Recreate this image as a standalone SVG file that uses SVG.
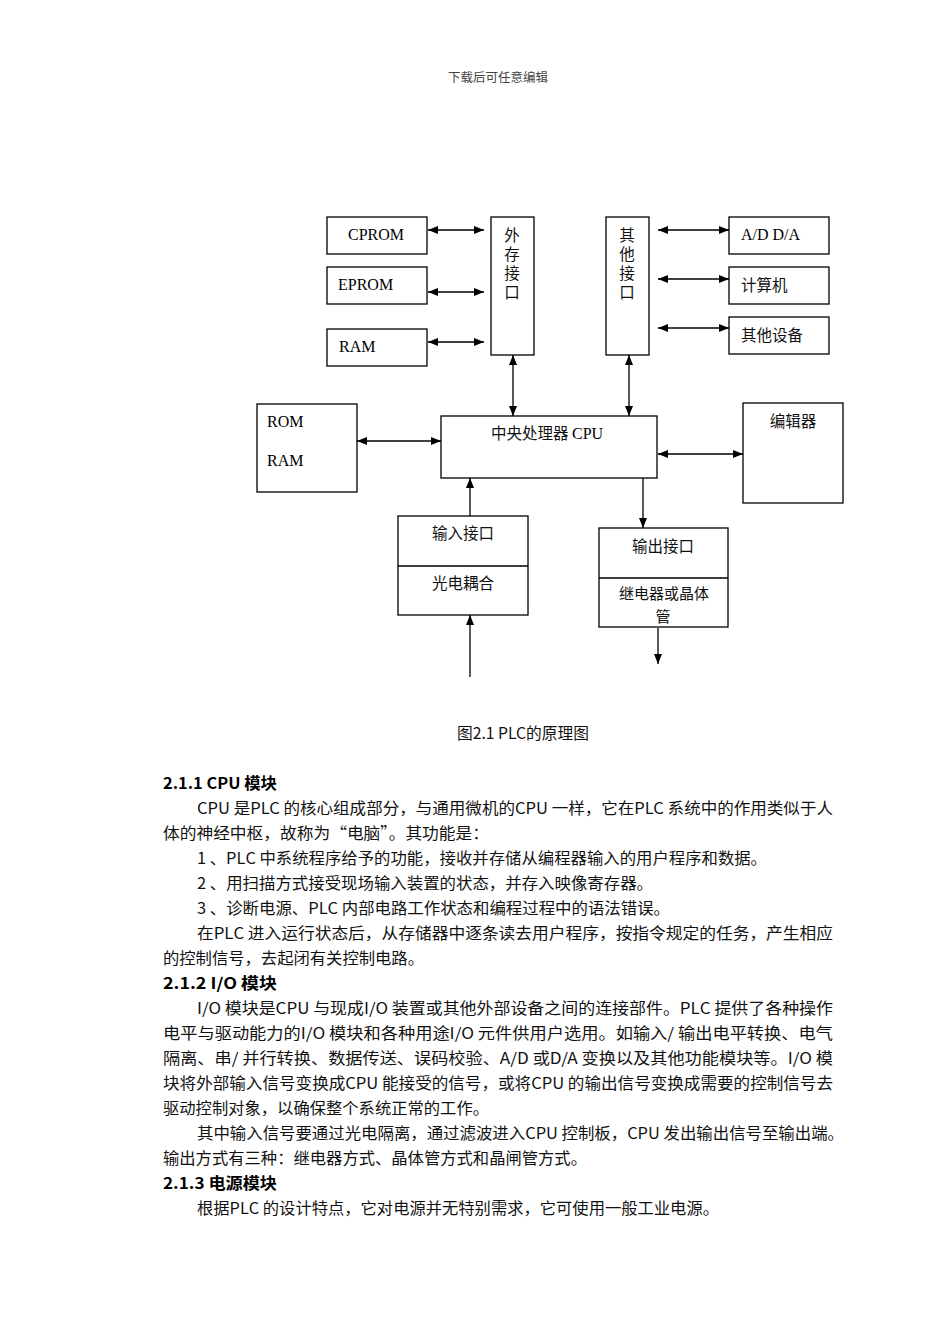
<svg xmlns="http://www.w3.org/2000/svg" width="950" height="1344" viewBox="0 0 950 1344">
<style>
.box{fill:#fff;stroke:#000;stroke-width:1.3}
.ln{fill:none;stroke:#000;stroke-width:1.3}
.lat{font-family:"Liberation Serif","Times New Roman",serif;font-size:16px;fill:#000}
.cjk{font-family:"Noto Sans CJK SC","Liberation Sans",sans-serif;font-size:15.5px;fill:#111}
.vert{font-family:"Noto Sans CJK SC","Liberation Sans",sans-serif;font-size:15.5px;fill:#111;writing-mode:vertical-rl;text-orientation:upright;letter-spacing:3.5px}
.body{font-family:"Noto Sans CJK SC","Liberation Sans",sans-serif;font-size:15.5px;fill:#111}
.head{font-family:"Noto Sans CJK SC","Liberation Sans",sans-serif;font-size:15.5px;font-weight:600;fill:#000}
.mid{text-anchor:middle}
</style>
<defs>
<marker id="ah" markerUnits="userSpaceOnUse" markerWidth="10" markerHeight="8" refX="10" refY="4" orient="auto-start-reverse">
<path d="M0,0 L10,4 L0,8 z" fill="#000"/>
</marker>
</defs>
<rect width="950" height="1344" fill="#fff"/>
<text x="498" y="82" class="cjk mid" style="font-size:12px;fill:#444" textLength="100" lengthAdjust="spacingAndGlyphs">下载后可任意编辑</text>

<g id="connectors">
<line class="ln" x1="428" y1="230" x2="484" y2="230" marker-start="url(#ah)" marker-end="url(#ah)"/>
<line class="ln" x1="428" y1="292" x2="484" y2="292" marker-start="url(#ah)" marker-end="url(#ah)"/>
<line class="ln" x1="428" y1="342" x2="484" y2="342" marker-start="url(#ah)" marker-end="url(#ah)"/>
<line class="ln" x1="513" y1="355" x2="513" y2="416" marker-start="url(#ah)" marker-end="url(#ah)"/>
<line class="ln" x1="629" y1="355" x2="629" y2="416" marker-start="url(#ah)" marker-end="url(#ah)"/>
<line class="ln" x1="658" y1="230" x2="729" y2="230" marker-start="url(#ah)" marker-end="url(#ah)"/>
<line class="ln" x1="658" y1="279" x2="729" y2="279" marker-start="url(#ah)" marker-end="url(#ah)"/>
<line class="ln" x1="658" y1="328" x2="729" y2="328" marker-start="url(#ah)" marker-end="url(#ah)"/>
<line class="ln" x1="357" y1="441" x2="441" y2="441" marker-start="url(#ah)" marker-end="url(#ah)"/>
<line class="ln" x1="658" y1="454" x2="743" y2="454" marker-start="url(#ah)" marker-end="url(#ah)"/>
<line class="ln" x1="643" y1="478" x2="643" y2="528" marker-end="url(#ah)"/>
<line class="ln" x1="470" y1="516" x2="470" y2="478" marker-end="url(#ah)"/>
<line class="ln" x1="470" y1="677" x2="470" y2="615" marker-end="url(#ah)"/>
<line class="ln" x1="658" y1="628" x2="658" y2="664" marker-end="url(#ah)"/>
</g>

<g id="cprom"><rect class="box" x="327" y="217" width="100" height="37"/><text class="lat" x="348" y="240">CPROM</text></g>
<g id="eprom"><rect class="box" x="327" y="267" width="100" height="37"/><text class="lat" x="338" y="290">EPROM</text></g>
<g id="ram"><rect class="box" x="327" y="329" width="100" height="37"/><text class="lat" x="339" y="352">RAM</text></g>
<g id="waicun"><rect class="box" x="491" y="217" width="43" height="138"/>
<text class="vert" x="512" y="227">外存接口</text></g>
<g id="qita"><rect class="box" x="606" y="217" width="43" height="138"/>
<text class="vert" x="627" y="227">其他接口</text></g>
<g id="adda"><rect class="box" x="729" y="217" width="100" height="37"/><text class="lat" x="741" y="240">A/D D/A</text></g>
<g id="computer"><rect class="box" x="729" y="267" width="100" height="37"/><text class="cjk" x="741" y="291">计算机</text></g>
<g id="otherdev"><rect class="box" x="729" y="317" width="100" height="37"/><text class="cjk" x="741" y="341">其他设备</text></g>
<g id="romram"><rect class="box" x="257" y="404" width="100" height="88"/><text class="lat" x="267" y="427">ROM</text><text class="lat" x="267" y="466">RAM</text></g>
<g id="cpu"><rect class="box" x="441" y="416" width="216" height="62"/><text class="cjk" x="491" y="439">中央处理器 <tspan class="lat">CPU</tspan></text></g>
<g id="editor"><rect class="box" x="743" y="403" width="100" height="100"/><text class="cjk mid" x="793" y="427">编辑器</text></g>
<g id="input"><rect class="box" x="398" y="516" width="130" height="99"/><line class="ln" x1="398" y1="566" x2="528" y2="566"/>
<text class="cjk mid" x="463" y="539">输入接口</text><text class="cjk mid" x="463" y="589">光电耦合</text></g>
<g id="output"><rect class="box" x="599" y="528" width="129" height="99"/><line class="ln" x1="599" y1="578" x2="728" y2="578"/>
<text class="cjk mid" x="663" y="552">输出接口</text><text class="cjk mid" x="664" y="599" style="font-size:15px">继电器或晶体</text><text class="cjk mid" x="663" y="622" style="font-size:15px">管</text></g>

<text class="body" x="457" y="739" style="font-size:16px" textLength="132" lengthAdjust="spacingAndGlyphs">图2.1 PLC的原理图</text>

<g id="text">
<text class="head" x="163" y="789" textLength="114" lengthAdjust="spacingAndGlyphs">2.1.1 CPU 模块</text>
<text class="body" x="197" y="814" textLength="636" lengthAdjust="spacingAndGlyphs">CPU 是PLC 的核心组成部分，与通用微机的CPU 一样，它在PLC 系统中的作用类似于人</text>
<text class="body" x="163" y="839" textLength="326" lengthAdjust="spacingAndGlyphs">体的神经中枢，故称为“电脑”。其功能是：</text>
<text class="body" x="197" y="864" textLength="570" lengthAdjust="spacingAndGlyphs">1 、PLC 中系统程序给予的功能，接收并存储从编程器输入的用户程序和数据。</text>
<text class="body" x="197" y="889" textLength="456" lengthAdjust="spacingAndGlyphs">2 、用扫描方式接受现场输入装置的状态，并存入映像寄存器。</text>
<text class="body" x="197" y="914" textLength="473" lengthAdjust="spacingAndGlyphs">3 、诊断电源、PLC 内部电路工作状态和编程过程中的语法错误。</text>
<text class="body" x="197" y="939" textLength="636" lengthAdjust="spacingAndGlyphs">在PLC 进入运行状态后，从存储器中逐条读去用户程序，按指令规定的任务，产生相应</text>
<text class="body" x="163" y="964" textLength="261" lengthAdjust="spacingAndGlyphs">的控制信号，去起闭有关控制电路。</text>
<text class="head" x="163" y="989" textLength="114" lengthAdjust="spacingAndGlyphs">2.1.2 I/O 模块</text>
<text class="body" x="197" y="1014" textLength="636" lengthAdjust="spacingAndGlyphs">I/O 模块是CPU 与现成I/O 装置或其他外部设备之间的连接部件。PLC 提供了各种操作</text>
<text class="body" x="163" y="1039" textLength="670" lengthAdjust="spacingAndGlyphs">电平与驱动能力的I/O 模块和各种用途I/O 元件供用户选用。如输入/ 输出电平转换、电气</text>
<text class="body" x="163" y="1064" textLength="670" lengthAdjust="spacingAndGlyphs">隔离、串/ 并行转换、数据传送、误码校验、A/D 或D/A 变换以及其他功能模块等。I/O 模</text>
<text class="body" x="163" y="1089" textLength="670" lengthAdjust="spacingAndGlyphs">块将外部输入信号变换成CPU 能接受的信号，或将CPU 的输出信号变换成需要的控制信号去</text>
<text class="body" x="163" y="1114" textLength="326" lengthAdjust="spacingAndGlyphs">驱动控制对象，以确保整个系统正常的工作。</text>
<text class="body" x="197" y="1139" textLength="647" lengthAdjust="spacingAndGlyphs">其中输入信号要通过光电隔离，通过滤波进入CPU 控制板，CPU 发出输出信号至输出端。</text>
<text class="body" x="163" y="1164" textLength="424" lengthAdjust="spacingAndGlyphs">输出方式有三种：继电器方式、晶体管方式和晶闸管方式。</text>
<text class="head" x="163" y="1189" textLength="114" lengthAdjust="spacingAndGlyphs">2.1.3 电源模块</text>
<text class="body" x="197" y="1214" textLength="522" lengthAdjust="spacingAndGlyphs">根据PLC 的设计特点，它对电源并无特别需求，它可使用一般工业电源。</text>
</g>
</svg>
